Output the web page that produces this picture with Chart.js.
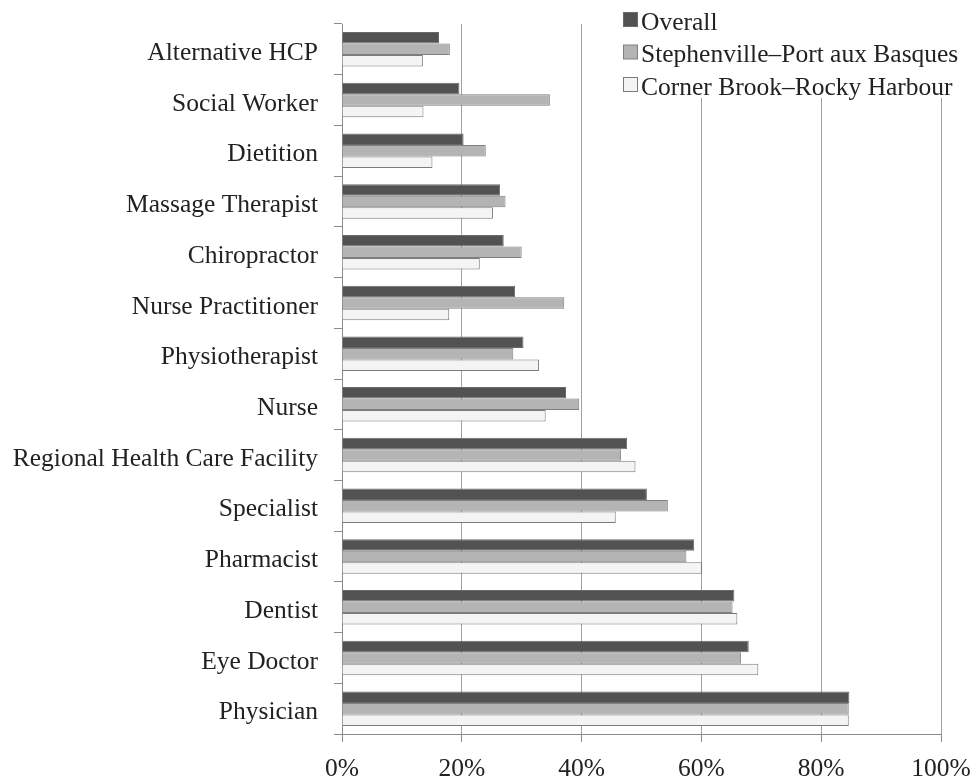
<!DOCTYPE html>
<html>
<head>
<meta charset="utf-8">
<title>Health care providers by region</title>
<script src="https://cdn.jsdelivr.net/npm/chart.js@4.4.1/dist/chart.umd.min.js"></script>
<style>
  html, body { margin: 0; padding: 0; background: #fff; }
  #wrap { width: 971px; height: 778px; position: relative; }
</style>
</head>
<body>
<div id="wrap"><canvas id="chart" width="971" height="778"></canvas></div>
<script>
// categories, top to bottom
const categories = [
  "Alternative HCP", "Social Worker", "Dietition", "Massage Therapist",
  "Chiropractor", "Nurse Practitioner", "Physiotherapist", "Nurse",
  "Regional Health Care Facility", "Specialist", "Pharmacist", "Dentist",
  "Eye Doctor", "Physician"
];

// percentages
const overall = [16.2, 19.6, 20.3, 26.4, 27.0, 28.9, 30.3, 37.4, 47.6, 50.9, 58.8, 65.5, 67.9, 84.7];
const stephenville = [18.0, 34.7, 24.0, 27.3, 30.0, 37.1, 28.6, 39.6, 46.6, 54.4, 57.5, 65.2, 66.6, 84.6];
const cornerBrook = [13.5, 13.6, 15.1, 25.2, 23.0, 17.9, 32.9, 34.0, 49.0, 45.7, 60.1, 66.0, 69.5, 84.6];

const xTicks = [0, 20, 40, 60, 80, 100];

const serif = "'Liberation Serif', 'Times New Roman', serif";

// legend drawn over the top right corner, on a white box
const boxLegend = {
  id: "boxLegend",
  afterDraw(chart) {
    const ctx = chart.ctx;
    ctx.save();
    ctx.fillStyle = "#fff";
    ctx.fillRect(615, 0, 356, 98);
    ctx.font = "25.5px " + serif;
    ctx.textBaseline = "alphabetic";
    chart.data.datasets.forEach((ds, i) => {
      const top = 12 + i * 32.5;
      ctx.fillStyle = ds.backgroundColor;
      ctx.fillRect(623.5, top + 0.5, 14, 14);
      ctx.strokeStyle = ds.borderColor;
      ctx.lineWidth = 1;
      ctx.strokeRect(623.5, top + 0.5, 14, 14);
      ctx.fillStyle = "#222";
      ctx.fillText(ds.label, 641, top + 17.5);
    });
    ctx.restore();
  }
};

new Chart(document.getElementById("chart"), {
  type: "bar",
  data: {
    labels: categories,
    datasets: [
      { label: "Overall", data: overall, backgroundColor: "#525252", borderColor: "#6a6a6a", borderWidth: 1 },
      { label: "Stephenville\u2013Port aux Basques", data: stephenville, backgroundColor: "#b4b4b4", borderColor: "#808080", borderWidth: 1 },
      { label: "Corner Brook\u2013Rocky Harbour", data: cornerBrook, backgroundColor: "#f4f4f4", borderColor: "#7a7a7a", borderWidth: 1 }
    ]
  },
  options: {
    indexAxis: "y",
    responsive: false,
    animation: false,
    categoryPercentage: 0.68,
    barPercentage: 1.0,
    layout: { padding: { top: 24, right: 30, left: 0, bottom: 0 } },
    plugins: {
      legend: { display: false },
      tooltip: { enabled: false }
    },
    scales: {
      x: {
        min: 0,
        max: 100,
        afterFit(scale) {
          scale.height = 44;
          scale.paddingLeft = 0;
          scale.paddingRight = 0;
        },
        afterBuildTicks(scale) { scale.ticks = xTicks.map(v => ({ value: v })); },
        grid: { color: "#a0a0a0", lineWidth: 1, tickLength: 8, tickColor: "#8a8a8a" },
        border: { color: "#8a8a8a", width: 1 },
        ticks: {
          padding: 12,
          color: "#222",
          font: { family: serif, size: 25.5 },
          callback: v => v + "%"
        }
      },
      y: {
        afterFit(scale) {
          scale.width = 342;
          scale.paddingTop = 0;
          scale.paddingBottom = 0;
        },
        grid: { drawOnChartArea: false, offset: true, tickLength: 8, color: "#8a8a8a" },
        border: { color: "#8a8a8a", width: 1 },
        ticks: {
          padding: 16,
          labelOffset: 4,
          color: "#222",
          font: { family: serif, size: 25.5 },
          autoSkip: false
        }
      }
    }
  },
  plugins: [boxLegend]
});
</script>
</body>
</html>
